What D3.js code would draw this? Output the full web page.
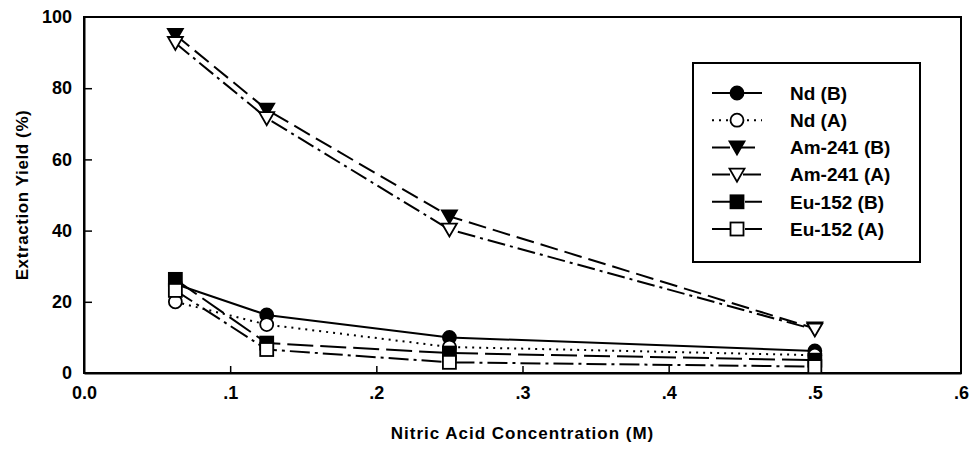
<!DOCTYPE html>
<html lang="en">
<head>
    <meta charset="utf-8">
    <title>Extraction Yield vs Nitric Acid</title>
    <script src="https://cdn.jsdelivr.net/npm/d3@7"></script>
    <style>
        body { margin: 0; background: #fff; }
        text { font-family: "Liberation Sans", Arial, sans-serif; font-weight: bold; fill: #000; }
    </style>
</head>
<body>
    <div id="chart"></div>
    <script>
        // data
        let conc = [0.0625, 0.125, 0.25, 0.5];
        let ndB = [25, 16.3, 10, 6.2];
        let ndA = [20, 13.6, 7.3, 5];
        let amB = [95, 74, 44, 12.5];
        let amA = [92.7, 71.6, 40.3, 12.2];
        let euB = [26.3, 8.4, 5.6, 3.6];
        let euA = [23.2, 6.6, 3, 1.8];
        let seriesNames = ["Nd (B)", "Nd (A)", "Am-241 (B)", "Am-241 (A)", "Eu-152 (B)", "Eu-152 (A)"];
        let xTicks = [0, 0.1, 0.2, 0.3, 0.4, 0.5, 0.6];
        let yTicks = [0, 20, 40, 60, 80, 100];

        let w = 975, h = 449;
        let m = { top: 17, right: 14, bottom: 76, left: 84 };

        let series = [
            { name: seriesNames[0], vals: ndB, sym: "circle", filled: true, dash: null },
            { name: seriesNames[1], vals: ndA, sym: "circle", filled: false, dash: "2,5" },
            { name: seriesNames[2], vals: amB, sym: "tri", filled: true, dash: "18,7" },
            { name: seriesNames[3], vals: amA, sym: "tri", filled: false, dash: "18,5,3,5" },
            { name: seriesNames[4], vals: euB, sym: "square", filled: true, dash: "26,7" },
            { name: seriesNames[5], vals: euA, sym: "square", filled: false, dash: "20,5,3,5" }
        ];

        let svg = d3.select("#chart").append("svg")
            .attr("width", w)
            .attr("height", h);

        let x = d3.scaleLinear().domain([0, 0.6]).range([m.left, w - m.right]);
        let y = d3.scaleLinear().domain([0, 100]).range([h - m.bottom, m.top]);

        // frame
        svg.append("rect")
            .attr("x", m.left).attr("y", m.top)
            .attr("width", w - m.left - m.right)
            .attr("height", h - m.top - m.bottom)
            .attr("fill", "none").attr("stroke", "#000").attr("stroke-width", 2);

        // axes, ticks inside
        let xAxis = svg.append("g")
            .attr("transform", "translate(0," + (h - m.bottom) + ")")
            .call(d3.axisBottom(x).tickValues(xTicks).tickSizeInner(-7).tickSizeOuter(0)
                .tickFormat(function (d) { return d === 0 ? "0.0" : d3.format(".1f")(d).replace("0.", "."); }));
        xAxis.select(".domain").attr("stroke-width", 2);
        xAxis.selectAll(".tick line").attr("stroke-width", 1.5);
        xAxis.selectAll("text").attr("y", 13).style("font-size", "18px");
        xAxis.selectAll(".tick").filter(function (d) { return d === 0 || d === 0.6; })
            .select("line").remove();

        let yAxis = svg.append("g")
            .attr("transform", "translate(" + m.left + ",0)")
            .call(d3.axisLeft(y).tickValues(yTicks).tickSizeInner(-8).tickSizeOuter(0));
        yAxis.select(".domain").attr("stroke-width", 2);
        yAxis.selectAll(".tick line").attr("stroke-width", 1.5);
        yAxis.selectAll("text").attr("x", -12).style("font-size", "18px");
        yAxis.selectAll(".tick").filter(function (d) { return d === 0 || d === 100; })
            .select("line").remove();
        svg.selectAll(".tick text").attr("fill", "#000").style("font-family", "'Liberation Sans', Arial, sans-serif");

        // axis titles
        svg.append("text")
            .attr("x", (m.left + w - m.right) / 2)
            .attr("y", h - 10)
            .attr("text-anchor", "middle")
            .style("font-size", "17px")
            .style("letter-spacing", "1px")
            .text("Nitric Acid Concentration (M)");

        svg.append("text")
            .attr("transform", "translate(28," + ((m.top + h - m.bottom) / 2) + ") rotate(-90)")
            .attr("text-anchor", "middle")
            .style("font-size", "17px")
            .style("letter-spacing", "0.6px")
            .text("Extraction Yield (%)");

        // markers
        let drawSym = function (g, s, cx, cy) {
            let fill = s.filled ? "#000" : "#fff";
            if (s.sym === "circle") {
                g.append("circle").attr("cx", cx).attr("cy", cy).attr("r", 6.5)
                    .attr("fill", fill).attr("stroke", "#000").attr("stroke-width", 1.8);
            } else if (s.sym === "square") {
                g.append("rect").attr("x", cx - 6.5).attr("y", cy - 6.5).attr("width", 13).attr("height", 13)
                    .attr("fill", fill).attr("stroke", "#000").attr("stroke-width", 1.8);
            } else {
                g.append("path")
                    .attr("d", "M" + (cx - 7.5) + "," + (cy - 6) + "L" + (cx + 7.5) + "," + (cy - 6) + "L" + cx + "," + (cy + 7) + "Z")
                    .attr("fill", fill).attr("stroke", "#000").attr("stroke-width", 1.8);
            }
        };

        let line = d3.line()
            .x(function (d, i) { return x(conc[i]); })
            .y(function (d) { return y(d); });

        series.forEach(function (s) {
            svg.append("path")
                .datum(s.vals)
                .attr("d", line)
                .attr("fill", "none")
                .attr("stroke", "#000")
                .attr("stroke-width", 2)
                .attr("stroke-dasharray", s.dash);
        });

        series.forEach(function (s) {
            let g = svg.append("g");
            s.vals.forEach(function (v, i) {
                drawSym(g, s, x(conc[i]), y(v));
            });
        });

        // legend
        let lg = svg.append("g");
        lg.append("rect")
            .attr("x", 693).attr("y", 63)
            .attr("width", 227).attr("height", 199)
            .attr("fill", "#fff").attr("stroke", "#000").attr("stroke-width", 2);

        series.forEach(function (s, i) {
            let ly = 93 + i * 27.2;
            lg.append("line")
                .attr("x1", 712).attr("x2", 762)
                .attr("y1", ly).attr("y2", ly)
                .attr("stroke", "#000").attr("stroke-width", 2)
                .attr("stroke-dasharray", s.dash);
            drawSym(lg, s, 737, ly);
            lg.append("text")
                .attr("x", 790).attr("y", ly)
                .attr("dy", "0.36em")
                .style("font-size", "19px")
                .text(s.name);
        });
    </script>
</body>
</html>
